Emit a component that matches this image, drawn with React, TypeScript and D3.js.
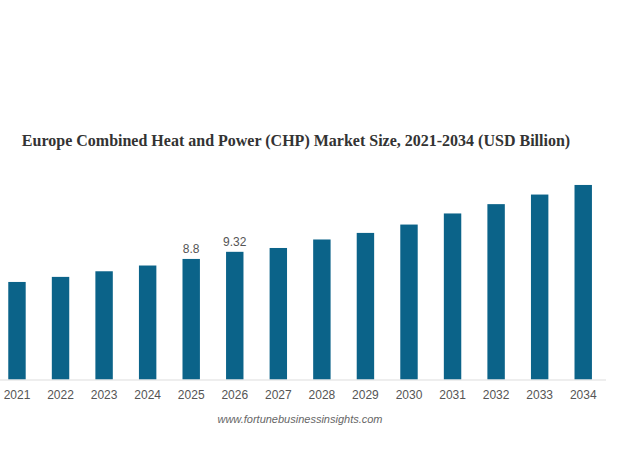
import { useEffect, useRef } from 'react'
import * as d3 from 'd3'

const years = ['2021', '2022', '2023', '2024', '2025', '2026', '2027', '2028', '2029', '2030', '2031', '2032', '2033', '2034']
const marketSize = [7.12, 7.49, 7.9, 8.32, 8.8, 9.32, 9.6, 10.22, 10.7, 11.31, 12.12, 12.8, 13.5, 14.2]
const labelled = ['2025', '2026']

const WIDTH = 628
const HEIGHT = 471
const BAR_COLOR = '#0b6389'

export default function App() {
  const svgRef = useRef<SVGSVGElement>(null)

  useEffect(() => {
    if (!svgRef.current) return
    const svg = d3.select(svgRef.current)
    svg.selectAll('*').remove()

    const baseline = 379.5
    const x = d3.scaleBand<string>()
      .domain(years)
      .range([-4.8, 605])
      .paddingInner(0.6)
      .paddingOuter(0.3)

    const y = d3.scaleLinear()
      .domain([0, 1])
      .range([baseline, baseline - 13.7])

    // Title
    svg.append('text')
      .attr('x', 296)
      .attr('y', 146)
      .attr('text-anchor', 'middle')
      .attr('font-family', '"Liberation Serif", "Times New Roman", serif')
      .attr('font-weight', 'bold')
      .attr('font-size', '16px')
      .attr('fill', '#333')
      .text('Europe Combined Heat and Power (CHP) Market Size, 2021-2034 (USD Billion)')

    // Bars
    svg.append('g')
      .selectAll('rect')
      .data(years)
      .enter()
      .append('rect')
      .attr('x', d => x(d) || 0)
      .attr('y', (_, i) => y(marketSize[i]))
      .attr('width', x.bandwidth())
      .attr('height', (_, i) => baseline - y(marketSize[i]))
      .attr('fill', BAR_COLOR)

    // Value labels
    svg.append('g')
      .selectAll('text')
      .data(years.filter(d => labelled.includes(d)))
      .enter()
      .append('text')
      .attr('x', d => (x(d) || 0) + x.bandwidth() / 2)
      .attr('y', d => y(marketSize[years.indexOf(d)]) - 6)
      .attr('text-anchor', 'middle')
      .attr('font-family', '"Liberation Sans", Arial, sans-serif')
      .attr('font-size', '12px')
      .attr('fill', '#555')
      .text(d => String(marketSize[years.indexOf(d)]))

    // X axis
    const axis = svg.append('g')
      .attr('transform', `translate(0,${baseline})`)
      .call(d3.axisBottom(x).tickSize(0).tickPadding(11))
    axis.select('.domain').attr('stroke', '#ddd').attr('d', 'M0,0.5H606')
    axis.selectAll('text')
      .attr('fill', '#555')
      .attr('font-size', '12px')
      .attr('font-family', '"Liberation Sans", Arial, sans-serif')

    // Source
    svg.append('text')
      .attr('x', 300)
      .attr('y', 423)
      .attr('text-anchor', 'middle')
      .attr('font-family', '"Liberation Sans", Arial, sans-serif')
      .attr('font-style', 'italic')
      .attr('font-size', '11px')
      .attr('fill', '#666')
      .text('www.fortunebusinessinsights.com')
  }, [])

  return (
    <svg
      ref={svgRef}
      width={WIDTH}
      height={HEIGHT}
      style={{ position: 'absolute', left: 0, top: 0, background: '#fff' }}
    />
  )
}
